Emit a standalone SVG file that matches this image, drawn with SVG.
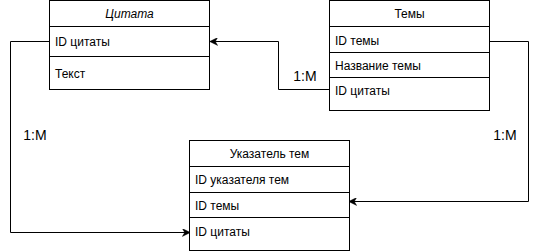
<svg xmlns="http://www.w3.org/2000/svg" width="540" height="251" viewBox="0 0 540 251">
  <style>
    .box { fill: #ffffff; stroke: #000000; stroke-width: 1; }
    .sep { stroke: #000000; stroke-width: 1; }
    .t { font-family: "Liberation Sans", Arial, sans-serif; font-size: 12px; fill: #000000; }
    .h { text-anchor: middle; }
    .lbl { font-family: "Liberation Sans", Arial, sans-serif; font-size: 14px; fill: #000000; text-anchor: middle; }
    .edge { fill: none; stroke: #000000; stroke-width: 1; }
  </style>
  <defs>
    <marker id="arrow" viewBox="0 0 10 10" refX="9" refY="5" markerWidth="8" markerHeight="8" markerUnits="userSpaceOnUse" orient="auto">
      <path d="M0,0 L10,5 L0,10 L3,5 Z" fill="#000000" stroke="#000000" stroke-width="0.5"/>
    </marker>
  </defs>

  <!-- Table: Цитата -->
  <g id="quote">
    <rect class="box" x="49.5" y="0.5" width="160" height="89"/>
    <line class="sep" x1="49.5" y1="26.5" x2="209.5" y2="26.5"/>
    <line class="sep" x1="49.5" y1="56.5" x2="209.5" y2="56.5"/>
    <text class="t h" x="129.5" y="18" font-style="italic">Цитата</text>
    <text class="t" x="55" y="46">ID цитаты</text>
    <text class="t" x="55" y="78">Текст</text>
  </g>

  <!-- Table: Темы -->
  <g id="topics">
    <rect class="box" x="329.5" y="0.5" width="160" height="110"/>
    <line class="sep" x1="329.5" y1="26.5" x2="489.5" y2="26.5"/>
    <line class="sep" x1="329.5" y1="52.5" x2="489.5" y2="52.5"/>
    <line class="sep" x1="329.5" y1="77.5" x2="489.5" y2="77.5"/>
    <text class="t h" x="409.5" y="18">Темы</text>
    <text class="t" x="335" y="45">ID темы</text>
    <text class="t" x="335" y="70">Название темы</text>
    <text class="t" x="335" y="95">ID цитаты</text>
  </g>

  <!-- Table: Указатель тем -->
  <g id="topic-index">
    <rect class="box" x="189.5" y="140.5" width="160" height="110"/>
    <line class="sep" x1="189.5" y1="166.5" x2="349.5" y2="166.5"/>
    <line class="sep" x1="189.5" y1="192.5" x2="349.5" y2="192.5"/>
    <line class="sep" x1="189.5" y1="217.5" x2="349.5" y2="217.5"/>
    <text class="t h" x="269.5" y="158">Указатель тем</text>
    <text class="t" x="195" y="184">ID указателя тем</text>
    <text class="t" x="195" y="210">ID темы</text>
    <text class="t" x="195" y="236">ID цитаты</text>
  </g>

  <!-- Relationships -->
  <g id="connectors">
    <path class="edge" d="M329.5,89.5 H278.5 V41.5 H210.5" marker-end="url(#arrow)"/>
    <path class="edge" d="M49.5,41.5 H10.5 V232.5 H189.5" marker-end="url(#arrow)"/>
    <path class="edge" d="M489.5,41.5 H528.5 V201.5 H349.5" marker-end="url(#arrow)"/>
    <text class="lbl" x="305" y="81">1:M</text>
    <text class="lbl" x="35" y="140">1:M</text>
    <text class="lbl" x="505" y="140">1:M</text>
  </g>
</svg>
